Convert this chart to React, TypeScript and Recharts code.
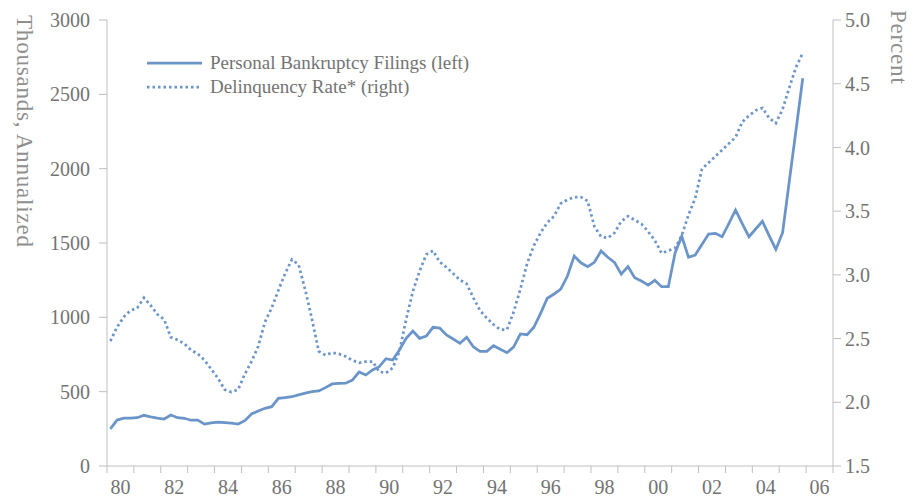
import React from "react";
import { Legend, Line, LineChart, XAxis, YAxis } from "recharts";

// quarterly, 1980Q1 .. 2005Q4
const years = [
  1980, 1981, 1982, 1983, 1984, 1985, 1986, 1987, 1988, 1989, 1990, 1991, 1992,
  1993, 1994, 1995, 1996, 1997, 1998, 1999, 2000, 2001, 2002, 2003, 2004, 2005,
];
const quarters = [1, 2, 3, 4];

// thousands, annualized
const filings = [
  250, 309, 322, 322,
  325, 341, 330, 322,
  316, 343, 325, 321,
  308, 309, 282, 290,
  295, 291, 288, 282,
  305, 350, 370, 388,
  399, 455, 460, 466,
  478, 490, 500, 505,
  527, 552, 555, 557,
  578, 632, 612, 646,
  668, 722, 713, 780,
  859, 908, 859, 874,
  933, 928, 881, 854,
  825, 866, 802, 771,
  771, 809, 785, 762,
  802, 888, 883, 933,
  1027, 1128, 1157, 1190,
  1278, 1412, 1367, 1341,
  1370, 1446, 1404, 1370,
  1291, 1341, 1267, 1244,
  1217, 1249, 1206, 1206,
  1431, 1547, 1404, 1419,
  1490, 1560, 1565, 1542,
  1630, 1722, 1630, 1542,
  1594, 1646, 1550, 1457,
  1569, 1915, 2260, 2608,
];

// percent
const delinquency = [
  2.48, 2.59, 2.67, 2.72,
  2.74, 2.82, 2.76, 2.69,
  2.65, 2.51, 2.49, 2.46,
  2.41, 2.38, 2.33, 2.26,
  2.19, 2.10, 2.08, 2.10,
  2.22, 2.32, 2.44, 2.63,
  2.74, 2.88, 3.01, 3.12,
  3.08, 2.88, 2.65, 2.40,
  2.37, 2.39, 2.38, 2.36,
  2.33, 2.31, 2.32, 2.32,
  2.24, 2.23, 2.27, 2.40,
  2.65, 2.87, 3.03, 3.16,
  3.19, 3.10, 3.06, 3.01,
  2.96, 2.93, 2.82, 2.72,
  2.66, 2.61, 2.57, 2.57,
  2.71, 2.89, 3.09, 3.23,
  3.33, 3.41, 3.46, 3.56,
  3.59, 3.61, 3.61, 3.58,
  3.38, 3.30, 3.29, 3.33,
  3.42, 3.46, 3.43, 3.40,
  3.34, 3.27, 3.17, 3.19,
  3.21, 3.31, 3.47, 3.60,
  3.83, 3.88, 3.93, 3.98,
  4.03, 4.08, 4.20, 4.25,
  4.29, 4.31, 4.23, 4.19,
  4.30, 4.47, 4.63, 4.74,
];

const leftTicks = [0, 500, 1000, 1500, 2000, 2500, 3000];
const rightTicks = [1.5, 2.0, 2.5, 3.0, 3.5, 4.0, 4.5, 5.0];
const yearTicks = [
  1980, 1981, 1982, 1983, 1984, 1985, 1986, 1987, 1988, 1989, 1990, 1991, 1992, 1993,
  1994, 1995, 1996, 1997, 1998, 1999, 2000, 2001, 2002, 2003, 2004, 2005, 2006, 2007,
];

const data = years.flatMap((yr, yi) =>
  quarters.map((q, qi) => ({
    x: yr + (q - 0.5) / 4,
    filings: filings[yi * 4 + qi],
    delinquency: delinquency[yi * 4 + qi],
  }))
);

const W = 918;
const H = 498;
const LEFT_W = 107;
const RIGHT_W = 85;
const PLOT_W = W - LEFT_W - RIGHT_W;
const HALF_YEAR = PLOT_W / (yearTicks.length - 1) / 2;

const BLUE = "#6b95c9";
const AXIS = "#bfbfbf";
const TEXT = "#737373";
const TITLE = "#8f8f8f";
const FONT = '"Liberation Serif", "DejaVu Serif", serif';

function YearTick(props: any) {
  const { x, y, payload } = props;
  const yr = payload.value;
  if (yr % 2 !== 0 || yr >= 2007) return <g />;
  return (
    <text x={x + HALF_YEAR} y={y} dy="0.71em" textAnchor="middle" fill={TEXT} fontSize={20} fontFamily={FONT}>
      {String(yr % 100).padStart(2, "0")}
    </text>
  );
}

function LegendBox() {
  const row = { display: "flex", alignItems: "center", height: 24 } as const;
  return (
    <div style={{ fontFamily: FONT, fontSize: 19, color: TEXT, lineHeight: "24px" }}>
      <div style={row}>
        <svg width={55} height={8} style={{ marginRight: 8 }}>
          <line x1={0} y1={4} x2={55} y2={4} stroke={BLUE} strokeWidth={2.75} />
        </svg>
        <span>Personal Bankruptcy Filings (left)</span>
      </div>
      <div style={row}>
        <svg width={55} height={8} style={{ marginRight: 8 }}>
          <line x1={0} y1={4} x2={55} y2={4} stroke={BLUE} strokeWidth={2.75} strokeDasharray="2.5 3" />
        </svg>
        <span>Delinquency Rate* (right)</span>
      </div>
    </div>
  );
}

export default function App() {
  return (
    <div style={{ position: "absolute", left: 0, top: 0, width: W, height: H, background: "#fff" }}>
      <LineChart width={W} height={H} data={data} margin={{ top: 20, right: 0, bottom: 0, left: 0 }}>
        <XAxis
          dataKey="x"
          type="number"
          domain={[1980, 2007]}
          ticks={yearTicks}
          interval={0}
          height={32}
          tickSize={7}
          tickMargin={7}
          axisLine={{ stroke: AXIS }}
          tickLine={{ stroke: AXIS }}
          tick={<YearTick />}
        />
        <YAxis
          yAxisId="left"
          width={LEFT_W}
          domain={[0, 3000]}
          ticks={leftTicks}
          interval={0}
          tickSize={8}
          tickMargin={9}
          axisLine={{ stroke: AXIS }}
          tickLine={{ stroke: AXIS }}
          tick={{ fill: TEXT, fontSize: 20, fontFamily: FONT }}
          label={() => (
            <text x={16.5} y={15} transform="rotate(90, 16.5, 15)" fill={TITLE} fontSize={23} letterSpacing={0.8} fontFamily={FONT}>
              Thousands, Annualized
            </text>
          )}
        />
        <YAxis
          yAxisId="right"
          orientation="right"
          width={RIGHT_W}
          domain={[1.5, 5]}
          ticks={rightTicks}
          interval={0}
          tickSize={8}
          tickMargin={4}
          tickFormatter={(v: number) => v.toFixed(1)}
          axisLine={{ stroke: AXIS }}
          tickLine={{ stroke: AXIS }}
          tick={{ fill: TEXT, fontSize: 20, fontFamily: FONT }}
          label={() => (
            <text x={891} y={10} transform="rotate(90, 891, 10)" fill={TITLE} fontSize={23} letterSpacing={0.8} fontFamily={FONT}>
              Percent
            </text>
          )}
        />
        <Legend
          layout="vertical"
          align="center"
          verticalAlign="middle"
          content={() => <LegendBox />}
          wrapperStyle={{ left: 147, top: 51, width: "auto" }}
        />
        <Line
          yAxisId="right"
          type="linear"
          dataKey="delinquency"
          stroke={BLUE}
          strokeWidth={2.75}
          strokeDasharray="2.5 3"
          dot={false}
          activeDot={false}
          isAnimationActive={false}
        />
        <Line
          yAxisId="left"
          type="linear"
          dataKey="filings"
          stroke={BLUE}
          strokeWidth={2.75}
          dot={false}
          activeDot={false}
          isAnimationActive={false}
        />
      </LineChart>
    </div>
  );
}
